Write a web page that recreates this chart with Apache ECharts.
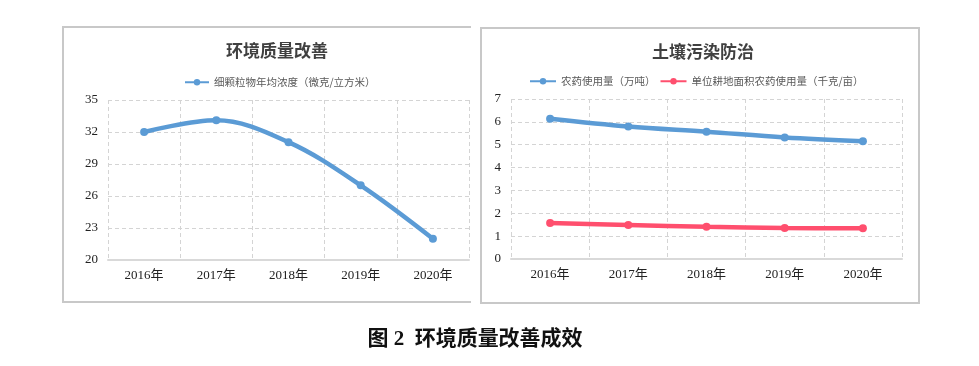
<!DOCTYPE html>
<html><head><meta charset="utf-8">
<script src="https://cdn.jsdelivr.net/npm/echarts@6/dist/echarts.min.js"></script>
<style>html,body{margin:0;padding:0;background:#fff}#c{width:979px;height:366px}</style>
</head><body><div id="c"></div>
<script>
const years = ['2016年','2017年','2018年','2019年','2020年'];
const pm25 = [32, 33.1, 31.05, 27, 22];
const pesticide = [6.14, 5.8, 5.57, 5.32, 5.15];
const pesticidePerMu = [1.57, 1.49, 1.41, 1.36, 1.34];
const leftTitle = '环境质量改善';
const rightTitle = '土壤污染防治';
const pmName = '细颗粒物年均浓度（微克/立方米）';
const pestName = '农药使用量（万吨）';
const perMuName = '单位耕地面积农药使用量（千克/亩）';
const caption = '图 2  环境质量改善成效';

const blue = '#5B9BD5', red = '#FF4F6E';
const serif = '"Liberation Serif","Noto Sans CJK SC",serif';
const sans = '"Noto Sans CJK SC",sans-serif';
const chart = echarts.init(document.getElementById('c'));
function xAxis(i){return {type:'category',gridIndex:i,data:years,boundaryGap:true,
  axisLine:{lineStyle:{color:'#d9d9d9',width:2}},axisTick:{show:false},
  axisLabel:{color:'#222',fontFamily:serif,fontSize:13,margin:9},
  splitLine:{show:true,interval:0,lineStyle:{color:'#d4d4d4',type:[4,3]}}};}
function yAxis(i,min,max,interval){return {type:'value',gridIndex:i,min,max,interval,
  axisLine:{show:false},axisTick:{show:false},
  axisLabel:{color:'#222',fontFamily:serif,fontSize:13,margin:10},
  splitLine:{lineStyle:{color:'#d4d4d4',type:[4,3]}}};}
function line(name,data,color,i){return {name,type:'line',xAxisIndex:i,yAxisIndex:i,data,smooth:0.35,
  symbol:'circle',symbolSize:8,showSymbol:true,lineStyle:{color,width:4.5},itemStyle:{color}};}
chart.setOption({
  animation:false,
  backgroundColor:'#fff',
  graphic:[
    {type:'polyline',shape:{points:[[471,27],[63,27],[63,302],[471,302]]},style:{stroke:'#c8c8c8',lineWidth:2,fill:null}},
    {type:'rect',shape:{x:481,y:28,width:438,height:275},style:{stroke:'#c8c8c8',lineWidth:2,fill:null}}
  ],
  title:[
    {text:leftTitle,left:272,top:37,textAlign:'center',textStyle:{fontFamily:sans,fontSize:17,fontWeight:'bold',color:'#404040'}},
    {text:rightTitle,left:698,top:38,textAlign:'center',textStyle:{fontFamily:sans,fontSize:17,fontWeight:'bold',color:'#404040'}},
    {text:caption,left:470,top:324,textAlign:'center',textStyle:{fontFamily:serif,fontSize:21,fontWeight:'bold',color:'#111'}}
  ],
  legend:[
    {data:[pmName],left:179,top:72,itemWidth:24,itemHeight:8,itemGap:6,
     textStyle:{fontFamily:sans,fontSize:10.5,color:'#595959'}},
    {data:[pestName,perMuName],left:524,top:71,itemWidth:26,itemHeight:8,itemGap:4,
     textStyle:{fontFamily:sans,fontSize:10.5,color:'#595959'}}
  ],
  grid:[
    {left:108,top:100,width:361,height:160},
    {left:511,top:99,width:391,height:160}
  ],
  xAxis:[xAxis(0),xAxis(1)],
  yAxis:[yAxis(0,20,35,3),yAxis(1,0,7,1)],
  series:[line(pmName,pm25,blue,0),line(pestName,pesticide,blue,1),line(perMuName,pesticidePerMu,red,1)]
});
</script></body></html>
